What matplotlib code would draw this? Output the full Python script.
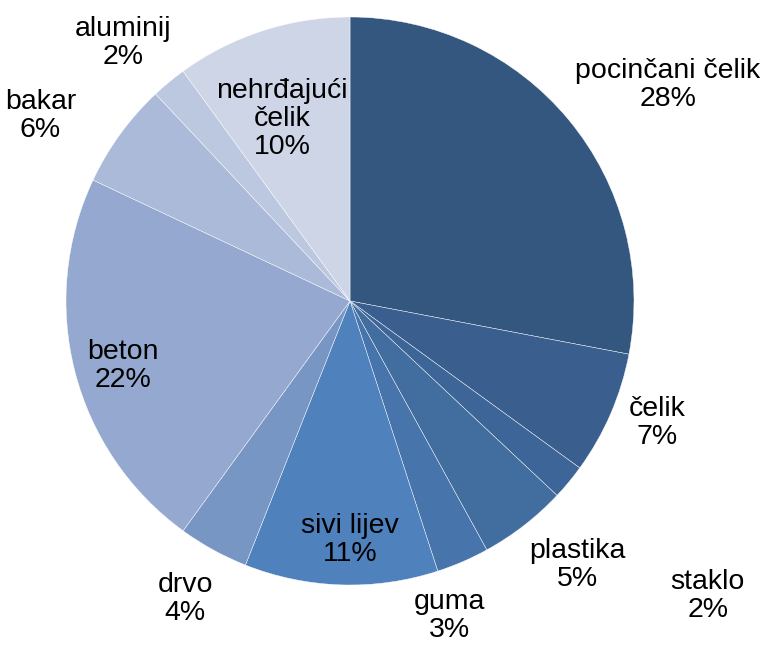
import matplotlib
matplotlib.use("Agg")
matplotlib.rcParams["font.family"] = ["Liberation Sans", "DejaVu Sans"]
import matplotlib.pyplot as plt

labels = ["pocinčani čelik", "čelik", "staklo", "plastika", "guma", "sivi lijev",
          "drvo", "beton", "bakar", "aluminij", "nehrđajući\nčelik"]
values = [28, 7, 2, 5, 3, 11, 4, 22, 6, 2, 10]
colors = ["#34577F", "#3A5F8E", "#3D6597", "#416D9F", "#4674AB", "#4F81BD",
          "#7896C4", "#95A8CF", "#ABBAD8", "#BCC7E0", "#CDD5E7"]
# label centres in axis data units (pie radius = 1)
label_pos = [(1.12, 0.76), (1.08, -0.43), (1.26, -1.04), (0.80, -0.93), (0.35, -1.11),
             (0.0, -0.84), (-0.58, -1.05), (-0.80, -0.23), (-1.09, 0.65), (-0.80, 0.91),
             (-0.24, 0.64)]

fig = plt.figure(figsize=(7.7, 6.46), dpi=100)
ax = fig.add_axes([66 / 770, 61 / 646, 568 / 770, 568 / 646])
ax.pie(values, colors=colors, startangle=90, counterclock=False, radius=1,
       wedgeprops={"edgecolor": "white", "linewidth": 0.3})
ax.set_xlim(-1, 1)
ax.set_ylim(-1, 1)
ax.set_aspect("equal")
ax.axis("off")

for lab, v, (x, y) in zip(labels, values, label_pos):
    ax.text(x, y, f"{lab}\n{v}%", ha="center", va="center", fontsize=20.5,
            color="black", linespacing=1.1, clip_on=False)

fig.savefig("out.png", dpi=100)
